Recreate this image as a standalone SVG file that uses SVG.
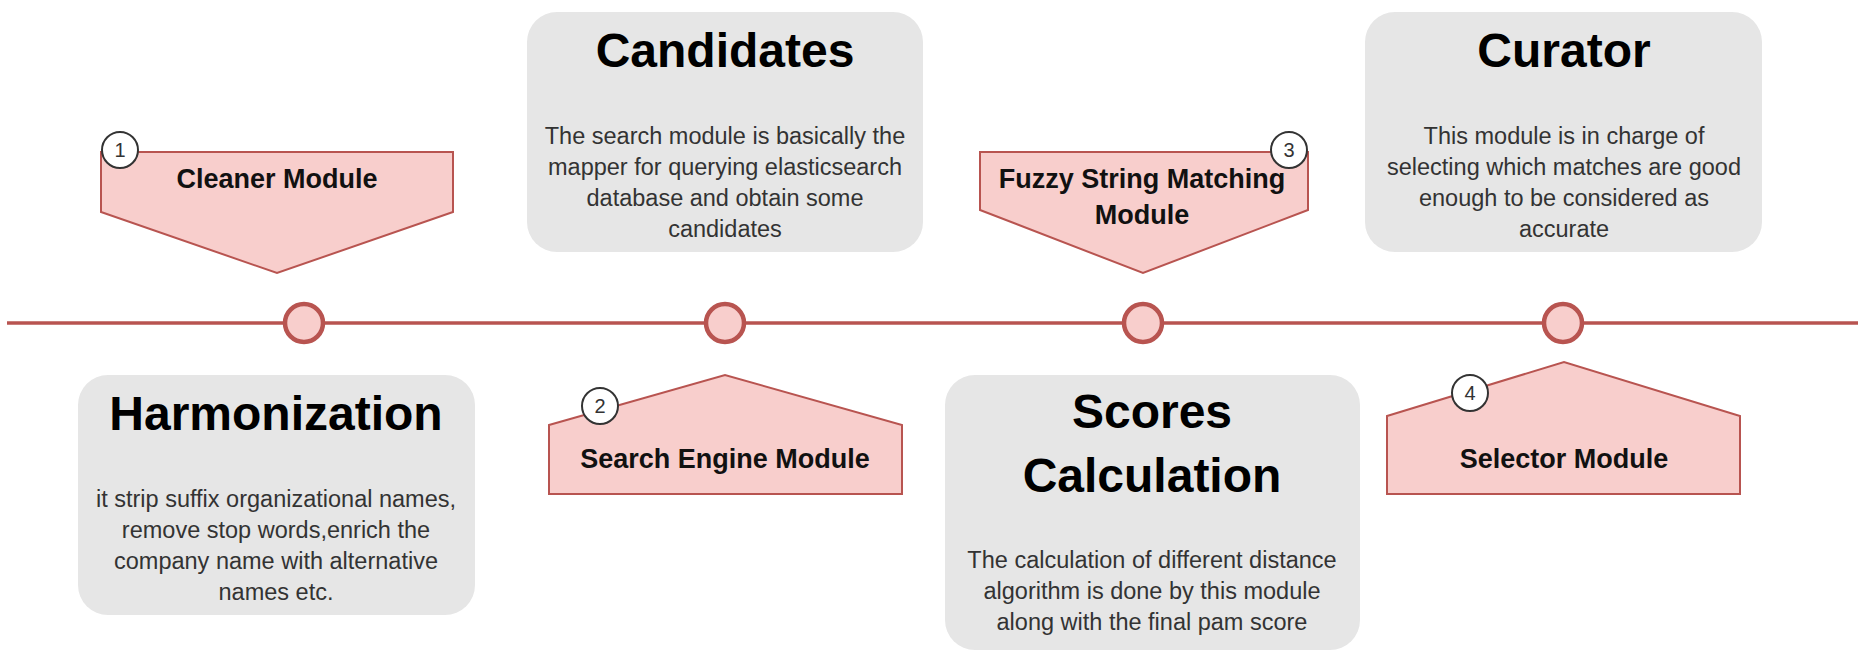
<svg xmlns="http://www.w3.org/2000/svg" width="1860" height="653" viewBox="0 0 1860 653">
<style>
.box{fill:#e6e6e6;stroke:none}
.mod{fill:#f8cecc;stroke:#b85450;stroke-width:2;stroke-linejoin:miter}
.dot{fill:#f8cecc;stroke:#b85450;stroke-width:4.5}
.line{stroke:#b85450;stroke-width:3.5;fill:none}
.badge{fill:#ffffff;stroke:#333333;stroke-width:2}
.title{font-family:"Liberation Sans",Arial,sans-serif;font-weight:bold;font-size:48px;fill:#000;text-anchor:middle}
.body{font-family:"Liberation Sans",Arial,sans-serif;font-size:23.5px;fill:#333;text-anchor:middle}
.mtxt{font-family:"Liberation Sans",Arial,sans-serif;font-weight:bold;font-size:27px;fill:#111;text-anchor:middle}
.num{font-family:"Liberation Sans",Arial,sans-serif;font-size:20px;fill:#333;text-anchor:middle}
</style>
<rect width="1860" height="653" fill="#ffffff"/>
<g id="connectors">
<line class="line" x1="7" y1="323" x2="1858" y2="323"/>
</g>
<g id="dot1"><circle class="dot" cx="304" cy="323" r="19"/></g>
<g id="dot2"><circle class="dot" cx="725" cy="323" r="19"/></g>
<g id="dot3"><circle class="dot" cx="1143" cy="323" r="19"/></g>
<g id="dot4"><circle class="dot" cx="1563" cy="323" r="19"/></g>

<g id="cleaner">
<polygon class="mod" points="101,152 453,152 453,212 277,273 101,212"/>
<text class="mtxt" x="277" y="188">Cleaner Module</text>
<circle class="badge" cx="120" cy="150" r="18"/>
<text class="num" x="120" y="157">1</text>
</g>

<g id="candidates">
<rect class="box" x="527" y="12" width="396" height="240" rx="30"/>
<text class="title" x="725" y="67">Candidates</text>
<text class="body" x="725" y="144">The search module is basically the</text>
<text class="body" x="725" y="175">mapper for querying elasticsearch</text>
<text class="body" x="725" y="206">database and obtain some</text>
<text class="body" x="725" y="237">candidates</text>
</g>

<g id="fuzzy">
<polygon class="mod" points="980,152 1308,152 1308,210 1143,273 980,210"/>
<text class="mtxt" x="1142" y="188">Fuzzy String Matching</text>
<text class="mtxt" x="1142" y="224">Module</text>
<circle class="badge" cx="1289" cy="150" r="18"/>
<text class="num" x="1289" y="157">3</text>
</g>

<g id="curator">
<rect class="box" x="1365" y="12" width="397" height="240" rx="30"/>
<text class="title" x="1564" y="67">Curator</text>
<text class="body" x="1564" y="144">This module is in charge of</text>
<text class="body" x="1564" y="175">selecting which matches are good</text>
<text class="body" x="1564" y="206">enough to be considered as</text>
<text class="body" x="1564" y="237">accurate</text>
</g>

<g id="harmonization">
<rect class="box" x="78" y="375" width="397" height="240" rx="30"/>
<text class="title" x="276" y="430">Harmonization</text>
<text class="body" x="276" y="507">it strip suffix organizational names,</text>
<text class="body" x="276" y="538">remove stop words,enrich the</text>
<text class="body" x="276" y="569">company name with alternative</text>
<text class="body" x="276" y="600">names etc.</text>
</g>

<g id="search">
<polygon class="mod" points="549,425 725,375 902,425 902,494 549,494"/>
<text class="mtxt" x="725" y="468">Search Engine Module</text>
<circle class="badge" cx="600" cy="406" r="18"/>
<text class="num" x="600" y="413">2</text>
</g>

<g id="scores">
<rect class="box" x="945" y="375" width="415" height="275" rx="30"/>
<text class="title" x="1152" y="428">Scores</text>
<text class="title" x="1152" y="492">Calculation</text>
<text class="body" x="1152" y="568">The calculation of different distance</text>
<text class="body" x="1152" y="599">algorithm is done by this module</text>
<text class="body" x="1152" y="630">along with the final pam score</text>
</g>

<g id="selector">
<polygon class="mod" points="1387,416 1564,362 1740,416 1740,494 1387,494"/>
<text class="mtxt" x="1564" y="468">Selector Module</text>
<circle class="badge" cx="1470" cy="393" r="18"/>
<text class="num" x="1470" y="400">4</text>
</g>
</svg>
